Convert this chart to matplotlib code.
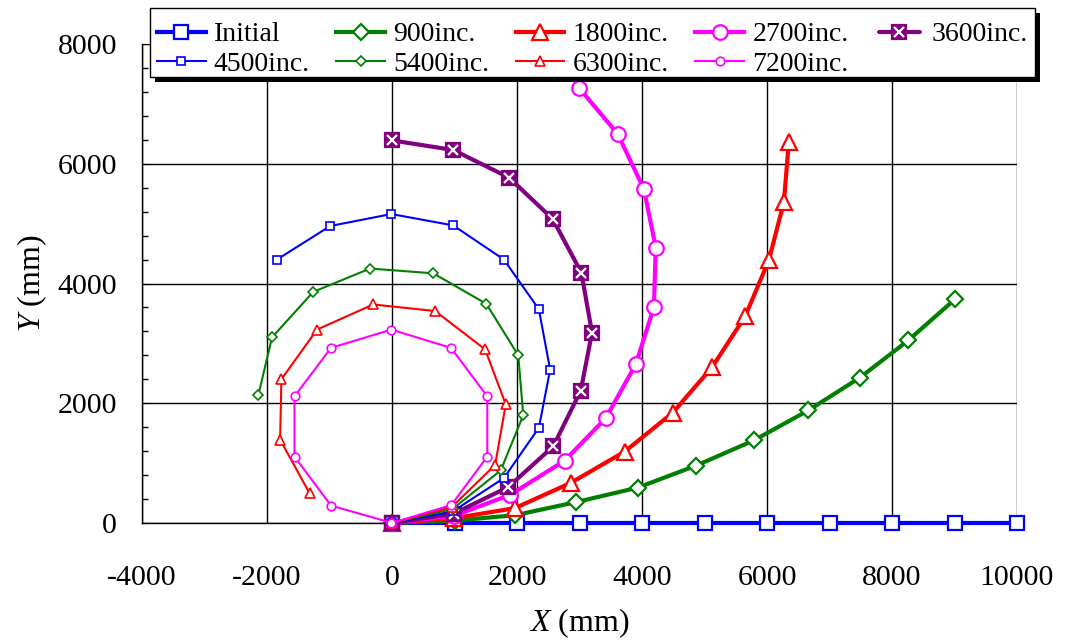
import matplotlib
matplotlib.use("Agg")
import matplotlib.pyplot as plt
from matplotlib.patches import Rectangle
from matplotlib.legend_handler import HandlerLine2D
from matplotlib.lines import Line2D
from matplotlib.ticker import MultipleLocator

plt.rcParams['font.family'] = ['Liberation Serif', 'DejaVu Serif']
plt.rcParams['mathtext.fontset'] = 'custom'
plt.rcParams['mathtext.rm'] = 'Liberation Serif'
plt.rcParams['mathtext.it'] = 'Liberation Serif:italic'
plt.rcParams['axes.unicode_minus'] = False

# ---------------- data (mm) ----------------
labels = ["Initial", "900inc.", "1800inc.", "2700inc.", "3600inc.",
          "4500inc.", "5400inc.", "6300inc.", "7200inc."]

x_initial = [0, 1000, 2000, 3000, 4000, 5000, 6000, 7000, 8000, 9000, 10000]
y_initial = [0, 0, 0, 0, 0, 0, 0, 0, 0, 0, 0]

x_900 = [0, 1000, 1970, 2950, 3930, 4870, 5790, 6660, 7490, 8260, 9010]
y_900 = [0, 40, 130, 350, 590, 960, 1380, 1880, 2430, 3050, 3740]

x_1800 = [0, 995, 1970, 2860, 3720, 4490, 5120, 5650, 6030, 6270, 6350]
y_1800 = [0, 80, 250, 670, 1190, 1840, 2600, 3450, 4390, 5360, 6370]

x_2700 = [0, 990, 1890, 2760, 3420, 3900, 4190, 4220, 4030, 3610, 2990]
y_2700 = [0, 120, 470, 1040, 1750, 2650, 3600, 4600, 5580, 6500, 7270]

x_3600 = [0, 985, 1860, 2580, 3020, 3200, 3030, 2570, 1870, 980, 0]
y_3600 = [0, 155, 600, 1280, 2210, 3180, 4180, 5080, 5770, 6230, 6390]

x_4500 = [0, 975, 1790, 2350, 2530, 2350, 1790, 980, -10, -990, -1840]
y_4500 = [0, 195, 750, 1590, 2560, 3570, 4400, 4970, 5160, 4960, 4400]

x_5400 = [0, 970, 1740, 2100, 2020, 1510, 660, -350, -1260, -1920, -2140]
y_5400 = [0, 235, 880, 1800, 2800, 3660, 4170, 4250, 3860, 3100, 2130]

x_6300 = [0, 960, 1650, 1820, 1490, 690, -300, -1200, -1770, -1790, -1320]
y_6300 = [0, 270, 970, 1980, 2900, 3540, 3650, 3230, 2400, 1390, 500]

x_7200 = [0, 950, 1525, 1525, 945, -10, -975, -1560, -1560, -975, -10]
y_7200 = [0, 300, 1110, 2115, 2925, 3230, 2925, 2115, 1110, 290, 5]

xs = [x_initial, x_900, x_1800, x_2700, x_3600, x_4500, x_5400, x_6300, x_7200]
ys = [y_initial, y_900, y_1800, y_2700, y_3600, y_4500, y_5400, y_6300, y_7200]

colors = ["#0000FF", "#008000", "#FF0000", "#FF00FF", "#800080",
          "#0000FF", "#008000", "#FF0000", "#FF00FF"]
markers = ["s", "D", "^", "o", "s", "s", "D", "^", "o"]
msizes = [10, 7.8, 11, 10.5, 10.5, 5.8, 5.2, 7, 6.2]
lws = [3.0, 3.0, 3.0, 3.0, 3.0, 1.5, 1.5, 1.5, 1.5]
mews = [1.6, 1.6, 1.6, 1.6, 1.6, 1.2, 1.2, 1.2, 1.2]

X_MS = msizes[4] * 0.62


class HandlerSquareX(HandlerLine2D):
    """Line + filled square marker with a white X on top."""
    def create_artists(self, legend, orig_handle, xdescent, ydescent,
                       width, height, fontsize, trans):
        arts = super().create_artists(legend, orig_handle, xdescent, ydescent,
                                      width, height, fontsize, trans)
        mk = arts[-1]
        xd, yd = mk.get_data()
        xline = Line2D(xd, yd, ls='none', marker='x', ms=X_MS,
                       mec='white', mew=1.6)
        xline.set_transform(trans)
        return list(arts) + [xline]


# ---------------- figure ----------------
fig = plt.figure(figsize=(10.7, 6.4), dpi=100)
ax = fig.add_axes([142/1070, 117/640, 875/1070, 479/640])

handles = []
handler_map = {}
for i in range(len(labels)):
    if i == 4:
        ln, = ax.plot(xs[i], ys[i], color=colors[i], lw=lws[i], marker=markers[i],
                      ms=msizes[i], mfc=colors[i], mec=colors[i], mew=mews[i],
                      clip_on=False, zorder=3 + i * 0.1)
        ax.plot(xs[i], ys[i], ls='none', marker='x', ms=X_MS,
                mec='white', mew=1.6, clip_on=False, zorder=3 + i * 0.1 + 0.05)
        handler_map[ln] = HandlerSquareX()
    else:
        ln, = ax.plot(xs[i], ys[i], color=colors[i], lw=lws[i], marker=markers[i],
                      ms=msizes[i], mfc='white', mec=colors[i], mew=mews[i],
                      clip_on=False, zorder=3 + i * 0.1)
    handles.append(ln)

ax.set_xlim(-4000, 10000)
ax.set_ylim(0, 8000)
ax.xaxis.set_major_locator(MultipleLocator(2000))
ax.yaxis.set_major_locator(MultipleLocator(2000))
ax.yaxis.set_minor_locator(MultipleLocator(400))

ax.grid(True, which='major', color='black', lw=1.0)
ax.set_axisbelow(True)
for s in ['top', 'right']:
    ax.spines[s].set_visible(False)
for s in ['left', 'bottom']:
    ax.spines[s].set_linewidth(1.0)
    ax.spines[s].set_color('black')

ax.tick_params(axis='x', which='major', direction='in', length=0, pad=30, labelsize=21.5)
ax.tick_params(axis='y', which='major', direction='in', length=5, pad=18, labelsize=21.5)
ax.tick_params(axis='y', which='minor', direction='in', length=4, width=1.0)

ax.set_xlabel(r'$\mathit{X}$ (mm)', fontsize=23, labelpad=11)
ax.set_ylabel(r'$\mathit{Y}$ (mm)', fontsize=23, labelpad=6)

# legend filled row by row (matplotlib fills columns first)
order = [0, 5, 1, 6, 2, 7, 3, 8, 4]
leg = fig.legend([handles[k] for k in order], [labels[k] for k in order],
                 ncol=5, loc='upper left',
                 bbox_to_anchor=(150/1070, 1 - 15/640), borderaxespad=0,
                 fontsize=20, frameon=False, handlelength=1.75, handletextpad=0.3,
                 columnspacing=0.95, labelspacing=0.15, borderpad=0.25,
                 handler_map=handler_map)
leg.set_zorder(6)

fig.canvas.draw()
bb = leg.get_window_extent()
inv = fig.transFigure.inverted()
lift = 7  # frame sits a little higher than the text block
fx0, fy0 = inv.transform((bb.x0, bb.y0 + lift))
fx1, fy1 = inv.transform((bb.x1, bb.y1 + lift))
sx0, sy0 = inv.transform((bb.x0 + 5, bb.y0 + lift - 5))
sx1, sy1 = inv.transform((bb.x1 + 5, bb.y1 + lift - 5))
shadow = Rectangle((sx0, sy0), sx1 - sx0, sy1 - sy0, transform=fig.transFigure,
                   facecolor='black', edgecolor='none', zorder=5.5)
frame = Rectangle((fx0, fy0), fx1 - fx0, fy1 - fy0, transform=fig.transFigure,
                  facecolor='white', edgecolor='black', lw=1.0, zorder=5.6)
fig.patches.append(shadow)
fig.patches.append(frame)

fig.savefig("out.png", dpi=100)
